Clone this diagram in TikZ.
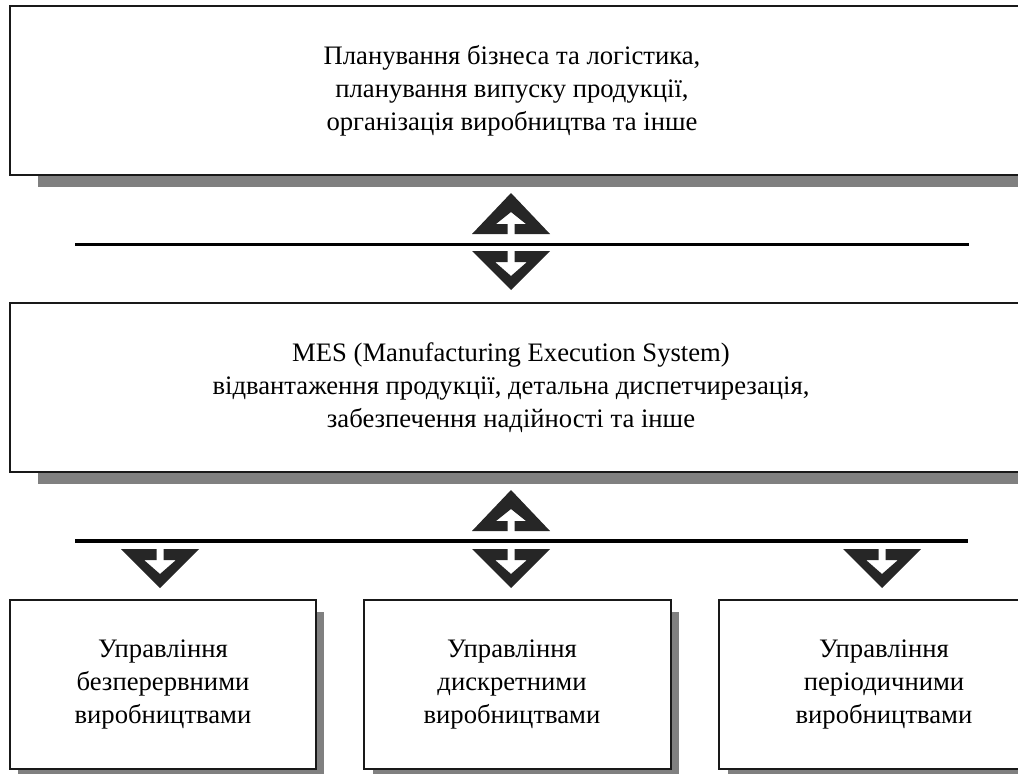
\documentclass[tikz,border=0pt]{standalone}
\usepackage{fontspec}
\setmainfont{Liberation Serif}
\begin{document}
\begin{tikzpicture}[x=0.75pt,y=-0.75pt,
  frame/.style={draw=black!90,line width=1.5pt,fill=white,inner sep=0pt},
  label/.style={align=center,font=\fontsize{20}{24.75}\selectfont,inner sep=0pt},
  shade/.style={fill=black!50},
  bar/.style={line width=2.3pt,black},
  glyph/.style={fill=black!85},
  uparrow/.pic={\fill[glyph] (-39,0) -- (0,-41) -- (39,0) -- (3.5,0) -- (3.5,-10)
      -- (15,-10) -- (0,-22) -- (-15,-10) -- (-3.5,-10) -- (-3.5,0) -- cycle;},
  downarrow/.pic={\fill[glyph] (-39,0) -- (0,39) -- (39,0) -- (3.5,0) -- (3.5,11)
      -- (16,11) -- (0,25) -- (-16,11) -- (-3.5,11) -- (-3.5,0) -- cycle;}]
\useasboundingbox (0,0) rectangle (1018,774);
\clip (0,0) rectangle (1018,774);

% upper level: planning
\fill[shade] (38,18) rectangle (1040,187);
\node[frame,minimum width=765pt,minimum height=126.75pt] (plan) at (520,90.5) {};
\node[label] (plantext) at (512,90.5) {Планування бізнеса та логістика,\\планування випуску продукції,\\організація виробництва та інше};

% exchange between planning and MES
\pic at (511,234) {uparrow};
\draw[bar] (75,244.5) coordinate (l1a) -- (969,244.5) coordinate (l1b);
\pic at (511,251) {downarrow};

% middle level: MES
\fill[shade] (38,315) rectangle (1040,484);
\node[frame,minimum width=765pt,minimum height=126.75pt] (mes) at (520,387.5) {};
\node[label] (mestext) at (511,388) {MES (Manufacturing Execution System)\\відвантаження продукції, детальна диспетчирезація,\\забезпечення надійності та інше};

% exchange between MES and control level
\pic at (511,531) {uparrow};
\draw[bar] (75,541) coordinate (l2a) -- (968,541) coordinate (l2b);
\pic at (160,549) {downarrow};
\pic at (511,549) {downarrow};
\pic at (882,549) {downarrow};

% lower level: control of production types
\fill[shade] (18,612) rectangle (324,781);
\fill[shade] (373,612) rectangle (679,781);
\fill[shade] (728,612) rectangle (1058,781);
\node[frame,minimum width=229.5pt,minimum height=126.75pt] (cont) at (163,684.5) {};
\node[frame,minimum width=230.25pt,minimum height=126.75pt] (disc) at (517.5,684.5) {};
\node[frame,minimum width=247.5pt,minimum height=126.75pt] (batch) at (884,684.5) {};
\node[label] (conttext) at (163,685) {Управління\\безперервними\\виробництвами};
\node[label] (disctext) at (512,685) {Управління\\дискретними\\виробництвами};
\node[label] (batchtext) at (884,685) {Управління\\періодичними\\виробництвами};
\end{tikzpicture}
\end{document}
